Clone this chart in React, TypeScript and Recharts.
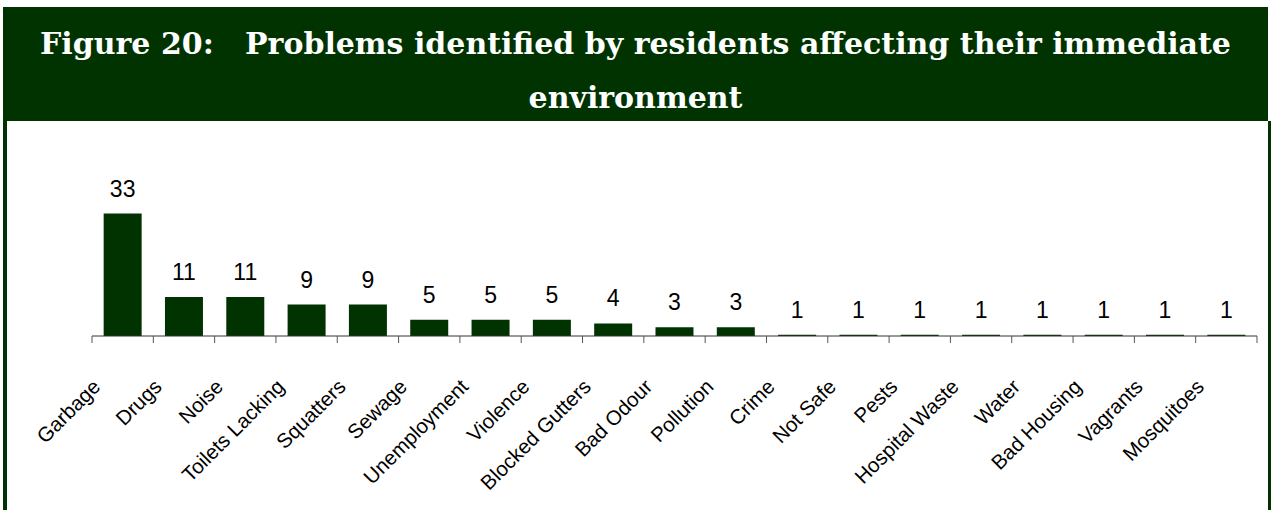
import React from 'react';
import { BarChart, Bar, XAxis, YAxis, LabelList } from 'recharts';

const categories = [
  'Garbage', 'Drugs', 'Noise', 'Toilets Lacking', 'Squatters', 'Sewage',
  'Unemployment', 'Violence', 'Blocked Gutters', 'Bad Odour', 'Pollution',
  'Crime', 'Not Safe', 'Pests', 'Hospital Waste', 'Water', 'Bad Housing',
  'Vagrants', 'Mosquitoes',
];
const counts = [33, 11, 11, 9, 9, 5, 5, 5, 4, 3, 3, 1, 1, 1, 1, 1, 1, 1, 1];

const titleLine1 = 'Figure 20:\u00a0\u00a0 Problems identified by residents affecting their immediate';
const titleLine2 = 'environment';

const GREEN = '#003300';
const CHART_W = 1271;
const CHART_H = 389;
const MARGIN = { top: 85, right: 14, bottom: 0, left: 92 };
const BAND = (CHART_W - MARGIN.left - MARGIN.right) / categories.length;

const data = categories.map((name, i) => ({ name, value: counts[i] }));

// tick marks sit between categories, label hangs off to the lower left
const CategoryTick = (props: any) => {
  const { x, y, payload, index } = props;
  const half = BAND / 2;
  const tx = x - 21;
  const ty = y + 52;
  return (
    <g>
      <line x1={x - half} x2={x - half} y1={y} y2={y + 7} stroke="#555" strokeWidth={1} />
      {index === categories.length - 1 && (
        <line x1={x + half} x2={x + half} y1={y} y2={y + 7} stroke="#555" strokeWidth={1} />
      )}
      <text
        x={tx}
        y={ty}
        textAnchor="end"
        transform={`rotate(-45, ${tx}, ${ty})`}
        fontSize={20.5}
        fontFamily="Arial, 'Liberation Sans', sans-serif"
        fill="#000"
      >
        {payload.value}
      </text>
    </g>
  );
};

export default function App() {
  return (
    <div>
      <div
        style={{
          position: 'absolute',
          left: 3,
          top: 7,
          width: 1265,
          height: 114,
          background: GREEN,
          color: '#fff',
          fontFamily: "'DejaVu Serif', serif",
          fontWeight: 'bold',
          fontSize: 30,
          lineHeight: '54px',
          textAlign: 'center',
          paddingTop: 10,
          boxSizing: 'border-box',
        }}
      >
        <div>{titleLine1}</div>
        <div>{titleLine2}</div>
      </div>
      <div
        style={{
          position: 'absolute',
          left: 3,
          top: 121,
          width: 1268,
          height: 389,
          background: '#fff',
          borderLeft: `4px solid ${GREEN}`,
          borderRight: `3px solid ${GREEN}`,
          boxSizing: 'border-box',
        }}
      />
      <div style={{ position: 'absolute', left: 0, top: 121 }}>
        <BarChart width={CHART_W} height={CHART_H} data={data} margin={MARGIN} barCategoryGap="19%">
          <XAxis
            dataKey="name"
            interval={0}
            height={174}
            tickLine={false}
            tickSize={0}
            tickMargin={0}
            axisLine={{ stroke: '#333', strokeWidth: 1 }}
            tick={<CategoryTick />}
          />
          <YAxis hide domain={[0.7, 35]} />
          <Bar dataKey="value" fill={GREEN} isAnimationActive={false}>
            <LabelList
              dataKey="value"
              position="top"
              offset={17}
              fontSize={23}
              fontFamily="Arial, 'Liberation Sans', sans-serif"
              fill="#000"
            />
          </Bar>
        </BarChart>
      </div>
    </div>
  );
}
